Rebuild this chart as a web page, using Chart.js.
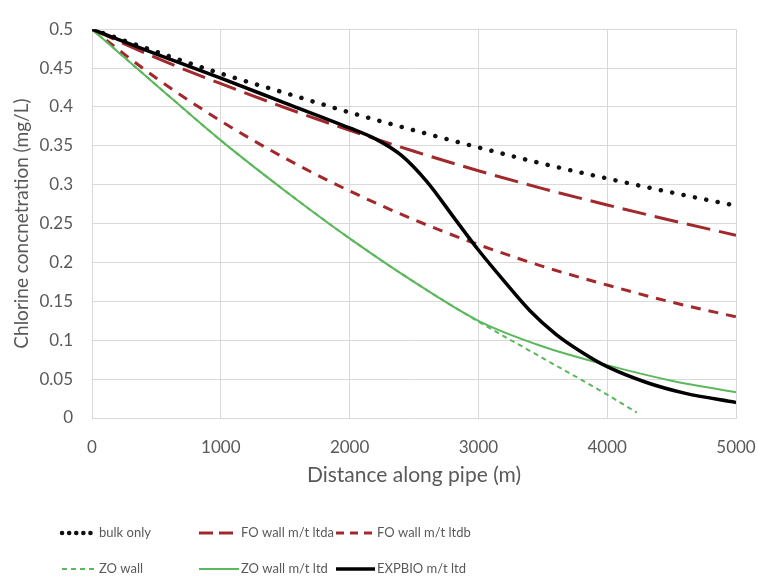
<!DOCTYPE html>
<html>
<head>
<meta charset="utf-8">
<script src="https://cdn.jsdelivr.net/npm/chart.js@4"></script>
<style>
  html, body { margin: 0; padding: 0; background: #fff; }
  #wrap { width: 757px; height: 579px; }
</style>
</head>
<body>
<div id="wrap"><canvas id="chlorine-chart" width="757" height="579"></canvas></div>
<script>
// === CHLORINE DECAY ALONG PIPE ===

const distance    = [0, 500, 1000, 1500, 2000, 2500, 3000, 3500, 4000, 4500, 5000];
const bulkOnly    = [0.5, 0.471, 0.443, 0.418, 0.393, 0.370, 0.348, 0.327, 0.308, 0.290, 0.273];
const foWallA     = [0.5, 0.463, 0.430, 0.399, 0.370, 0.343, 0.318, 0.295, 0.274, 0.254, 0.235];
const foWallB     = [0.5, 0.437, 0.382, 0.334, 0.292, 0.255, 0.223, 0.195, 0.171, 0.149, 0.130];
const zoWallLtd   = [0.5, 0.428, 0.357, 0.292, 0.231, 0.175, 0.125, 0.092, 0.068, 0.048, 0.033];

const zoWallDist  = [0, 500, 1000, 1500, 2000, 2500, 3000, 3500, 4000, 4230];
const zoWall      = [0.5, 0.428, 0.357, 0.292, 0.231, 0.175, 0.124, 0.077, 0.030, 0.007];

const expBioDist  = [0, 500, 1000, 1500, 2000, 2200, 2400, 2600, 2800, 3000, 3200, 3400, 3600, 3800, 4000, 4300, 4600, 5000];
const expBio      = [0.5, 0.468, 0.437, 0.405, 0.373, 0.359, 0.338, 0.304, 0.260, 0.216, 0.176, 0.138, 0.108, 0.085, 0.066, 0.046, 0.032, 0.020];

const xTickLabels = ["0", "1000", "2000", "3000", "4000", "5000"];
const yTickLabels = ["0", "0.05", "0.1", "0.15", "0.2", "0.25", "0.3", "0.35", "0.4", "0.45", "0.5"];

const seriesNames = ["bulk only", "FO wall m/t ltda", "FO wall m/t ltdb", "ZO wall", "ZO wall m/t ltd", "EXPBIO m/t ltd"];

const toPoints = (xs, ys) => xs.map((x, i) => ({ x, y: ys[i] }));

const TEXT_COL = "#595959";
const GRID_COL = "#d9d9d9";
const FONT     = "Lato, 'Open Sans', sans-serif";

// legend drawn as a 3-column grid under the axis title
const gridLegend = {
  id: "gridLegend",
  afterDraw(chart) {
    const ctx  = chart.ctx;
    const cols = [{ x0: 62, x1: 97, tx: 99 }, { x0: 199, x1: 239, tx: 241 }, { x0: 336, x1: 375, tx: 377 }];
    const rows = [533, 569];
    chart.data.datasets.forEach((ds, i) => {
      const c = cols[i % 3];
      const y = rows[Math.floor(i / 3)];
      ctx.save();
      ctx.strokeStyle = ds.borderColor;
      ctx.lineWidth   = ds.borderWidth;
      ctx.lineCap     = ds.borderCapStyle || "butt";
      ctx.setLineDash(ds.legendDash || ds.borderDash || []);
      ctx.beginPath();
      ctx.moveTo(c.x0, y);
      ctx.lineTo(c.x1, y);
      ctx.stroke();
      ctx.restore();
      ctx.save();
      ctx.fillStyle    = TEXT_COL;
      ctx.font         = "13px " + FONT;
      ctx.textBaseline = "middle";
      ctx.fillText(ds.label, c.tx, y);
      ctx.restore();
    });
  },
};

const baseLine = {
  fill: false,
  pointRadius: 0,
  cubicInterpolationMode: "monotone",
};

new Chart(document.getElementById("chlorine-chart"), {
  type: "line",
  data: {
    datasets: [
      {
        ...baseLine,
        label: seriesNames[0],
        data: toPoints(distance, bulkOnly),
        borderColor: "#111111",
        borderWidth: 4.5,
        borderCapStyle: "round",
        borderDash: [0.1, 11.5],
        legendDash: [0.1, 7],
        order: 5,
      },
      {
        ...baseLine,
        label: seriesNames[1],
        data: toPoints(distance, foWallA),
        borderColor: "#a3282c",
        borderWidth: 3,
        borderDash: [24, 9],
        legendDash: [14, 6],
        order: 4,
      },
      {
        ...baseLine,
        label: seriesNames[2],
        data: toPoints(distance, foWallB),
        borderColor: "#a3282c",
        borderWidth: 3,
        borderDash: [10, 8],
        legendDash: [8, 6],
        order: 3,
      },
      {
        ...baseLine,
        label: seriesNames[3],
        data: toPoints(zoWallDist, zoWall),
        borderColor: "#5cb85c",
        borderWidth: 2,
        borderDash: [5, 4],
        order: 2,
      },
      {
        ...baseLine,
        label: seriesNames[4],
        data: toPoints(distance, zoWallLtd),
        borderColor: "#5cb85c",
        borderWidth: 2,
        order: 1,
      },
      {
        ...baseLine,
        label: seriesNames[5],
        data: toPoints(expBioDist, expBio),
        borderColor: "#000000",
        borderWidth: 3.5,
        order: 0,
      },
    ],
  },
  options: {
    responsive: false,
    animation: false,
    layout: { padding: { top: 21, right: 21, bottom: 91, left: 0 } },
    plugins: {
      legend: { display: false },
      tooltip: { enabled: false },
    },
    scales: {
      x: {
        type: "linear",
        min: 0,
        max: 5000,
        ticks: {
          stepSize: 1000,
          color: TEXT_COL,
          font: { size: 17, family: FONT },
          padding: 19,
          maxRotation: 0,
          callback: (v, i) => xTickLabels[i],
        },
        grid: { color: GRID_COL, tickLength: 0 },
        border: { color: GRID_COL },
        title: {
          display: true,
          text: "Distance along pipe (m)",
          color: TEXT_COL,
          font: { size: 21, family: FONT },
          padding: { top: 0, bottom: 0 },
        },
        afterFit: (scale) => {
          scale.height = 70;
          scale.paddingLeft = 0;
          scale.paddingRight = 0;
        },
      },
      y: {
        min: 0,
        max: 0.5,
        ticks: {
          stepSize: 0.05,
          color: TEXT_COL,
          font: { size: 17, family: FONT },
          padding: 19,
          callback: (v, i) => yTickLabels[i],
        },
        grid: { color: GRID_COL, tickLength: 0 },
        border: { color: GRID_COL },
        title: {
          display: true,
          text: "Chlorine concnetration (mg/L)",
          color: TEXT_COL,
          font: { size: 19, family: FONT },
          padding: { top: 10, bottom: 0 },
        },
        afterFit: (scale) => { scale.width = 92; },
      },
    },
  },
  plugins: [gridLegend],
});
</script>
</body>
</html>
